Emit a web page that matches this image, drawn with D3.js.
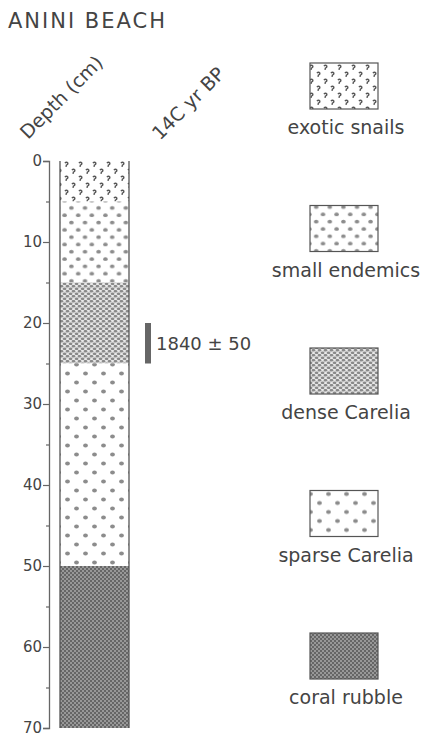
<!DOCTYPE html>
<html>
<head>
<meta charset="utf-8">
<script src="https://cdn.jsdelivr.net/npm/d3@7"></script>
<style>
  html, body { margin: 0; padding: 0; background: #fff; }
  svg { display: block; }
  text { font-family: "DejaVu Sans", sans-serif; fill: #444; }
</style>
</head>
<body>
<script>
// ---------- data ----------
const title = "ANINI BEACH";
const layerNames = ["exotic snails", "small endemics", "dense Carelia", "sparse Carelia", "coral rubble"];
const layerTop = [0, 5, 15, 25, 50];      // depth (cm)
const layerBottom = [5, 15, 25, 50, 70];  // depth (cm)
const depthTicks = [0, 10, 20, 30, 40, 50, 60, 70];
const minorTicks = [5, 15, 25, 35, 45, 55, 65];
const dateLabel = "1840 \u00b1 50";
const dateTop = [20];
const dateBottom = [25];
const axisTitles = ["Depth (cm)", "14C yr BP"];

// ---------- setup ----------
const W = 423, H = 738;
const svg = d3.select("body").append("svg").attr("width", W).attr("height", H);
const defs = svg.append("defs");

const y = d3.scaleLinear().domain([0, 70]).range([161, 728]);
const colX0 = 60, colX1 = 129;

// patterns
const patIds = ["pExotic", "pSmall", "pDense", "pSparse", "pCoral"];
function blob(g, cx, cy, rx, ry, fill) {
  g.append("ellipse").attr("cx", cx).attr("cy", cy).attr("rx", rx).attr("ry", ry).attr("fill", fill);
}
// exotic snails: tiny hooks
{
  const p = defs.append("pattern").attr("id", patIds[0]).attr("patternUnits", "userSpaceOnUse")
    .attr("width", 14).attr("height", 14);
  p.append("rect").attr("width", 14).attr("height", 14).attr("fill", "#fff");
  [[3.5, 3.5], [10.5, 10.5]].forEach(([cx, cy]) => {
    p.append("path").attr("d", `M${cx - 1.6},${cy - 1.4} q1.6,-1.8 3,0 q0.2,1.5 -1.5,2 l-0.4,1.8`)
      .attr("fill", "none").attr("stroke", "#555").attr("stroke-width", 1.4);
  });
}
// small endemics
{
  const p = defs.append("pattern").attr("id", patIds[1]).attr("patternUnits", "userSpaceOnUse")
    .attr("width", 13.6).attr("height", 14.6);
  p.append("rect").attr("width", 13.6).attr("height", 14.6).attr("fill", "#fff");
  blob(p, 3.4, 3.6, 2.3, 1.8, "#8c8c8c");
  blob(p, 10.2, 10.9, 2.3, 1.8, "#8c8c8c");
}
// dense Carelia
{
  const p = defs.append("pattern").attr("id", patIds[2]).attr("patternUnits", "userSpaceOnUse")
    .attr("width", 6).attr("height", 5);
  p.append("rect").attr("width", 6).attr("height", 5).attr("fill", "#e8e8e8");
  blob(p, 1.5, 1.25, 1.8, 1.35, "#8a8a8a");
  blob(p, 4.5, 3.75, 1.8, 1.35, "#8a8a8a");
  blob(p, -1.5, 3.75, 1.8, 1.35, "#8a8a8a");
  blob(p, 7.5, 1.25, 1.8, 1.35, "#8a8a8a");
}
// sparse Carelia
{
  const p = defs.append("pattern").attr("id", patIds[3]).attr("patternUnits", "userSpaceOnUse")
    .attr("width", 18).attr("height", 18);
  p.append("rect").attr("width", 18).attr("height", 18).attr("fill", "#fff");
  blob(p, 4.5, 4.5, 2.4, 1.9, "#8c8c8c");
  blob(p, 13.5, 13.5, 2.4, 1.9, "#8c8c8c");
}
// coral rubble
{
  const p = defs.append("pattern").attr("id", patIds[4]).attr("patternUnits", "userSpaceOnUse")
    .attr("width", 4).attr("height", 4);
  p.append("rect").attr("width", 4).attr("height", 4).attr("fill", "#666");
  p.append("circle").attr("cx", 1).attr("cy", 1).attr("r", 0.8).attr("fill", "#d8d8d8");
  p.append("circle").attr("cx", 3).attr("cy", 3).attr("r", 0.8).attr("fill", "#d8d8d8");
}

// ---------- title ----------
svg.append("text").attr("x", 8).attr("y", 28).attr("font-size", 21)
  .attr("letter-spacing", 2).text(title);

// ---------- axis titles ----------
svg.append("text").attr("transform", "translate(28,140) rotate(-45)")
  .attr("font-size", 19).text(axisTitles[0]);
svg.append("text").attr("transform", "translate(160,141) rotate(-45)")
  .attr("font-size", 19).text(axisTitles[1]);

// ---------- column ----------
const layers = layerNames.map((n, i) => ({ name: n, top: layerTop[i], bottom: layerBottom[i], pat: patIds[i] }));
svg.append("g").selectAll("rect").data(layers).join("rect")
  .attr("x", colX0).attr("width", colX1 - colX0)
  .attr("y", d => y(d.top)).attr("height", d => y(d.bottom) - y(d.top))
  .attr("fill", d => `url(#${d.pat})`);
svg.append("g").selectAll("line").data([colX0, colX1]).join("line")
  .attr("x1", d => d).attr("x2", d => d).attr("y1", y(0)).attr("y2", y(70))
  .attr("stroke", "#555").attr("stroke-width", 1.3);

// ---------- axis ----------
const axisG = svg.append("g").attr("transform", "translate(49,0)");
axisG.call(d3.axisLeft(y).tickValues(depthTicks).tickSize(6).tickPadding(1).tickFormat(d3.format("d")));
axisG.append("g").call(d3.axisLeft(y).tickValues(minorTicks).tickSize(3).tickFormat(""))
  .select(".domain").remove();
axisG.selectAll(".domain").attr("stroke", "#666").attr("stroke-width", 1.3);
axisG.selectAll(".tick line").attr("stroke", "#666").attr("stroke-width", 1.2);
axisG.selectAll(".tick text").attr("font-size", 15).attr("font-family", "DejaVu Sans")
  .attr("fill", "#444");

// ---------- date ----------
svg.append("g").selectAll("rect").data(dateTop).join("rect")
  .attr("x", 145).attr("width", 6)
  .attr("y", (d, i) => y(d)).attr("height", (d, i) => y(dateBottom[i]) - y(d))
  .attr("fill", "#666");
svg.append("text").attr("x", 156).attr("y", (y(dateTop[0]) + y(dateBottom[0])) / 2)
  .attr("dy", "0.36em").attr("font-size", 18).text(dateLabel);

// ---------- legend ----------
const leg = svg.append("g").selectAll("g").data(layers).join("g")
  .attr("transform", (d, i) => `translate(0,${134 + i * 142.5})`);
leg.append("rect").attr("x", 310).attr("y", -71).attr("width", 68).attr("height", 46)
  .attr("fill", d => `url(#${d.pat})`).attr("stroke", "#555").attr("stroke-width", 1.2);
leg.append("text").attr("x", 346).attr("y", 0).attr("text-anchor", "middle")
  .attr("font-size", 19).text(d => d.name);
</script>
</body>
</html>
